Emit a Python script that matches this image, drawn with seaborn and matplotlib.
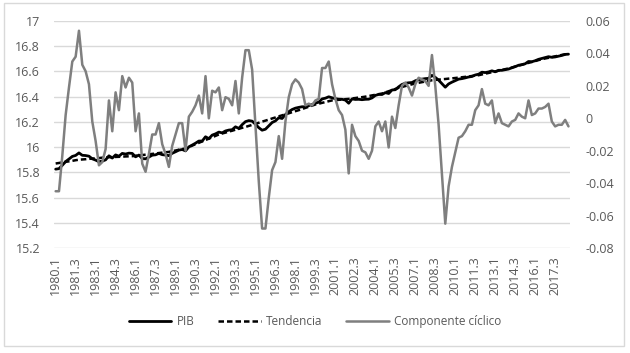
import numpy as np
import pandas as pd
import seaborn as sns
import matplotlib.pyplot as plt
from matplotlib.patches import Rectangle
from matplotlib.ticker import FuncFormatter

# quarterly labels 1980.1 .. 2018.3
quarters = [f"{y}.{q}" for y in range(1980, 2019) for q in range(1, 5)][:155]

pib = [
    15.825, 15.829, 15.856, 15.885, 15.906, 15.926, 15.934, 15.954, 15.935, 15.933,
    15.928, 15.907, 15.897, 15.884, 15.889, 15.899, 15.931, 15.913, 15.938, 15.928,
    15.950, 15.945, 15.952, 15.950, 15.923, 15.937, 15.909, 15.907, 15.921, 15.936,
    15.939, 15.950, 15.940, 15.937, 15.932, 15.951, 15.963, 15.976, 15.981, 15.970,
    16.002, 16.016, 16.031, 16.048, 16.048, 16.082, 16.067, 16.095, 16.105, 16.119,
    16.113, 16.128, 16.135, 16.138, 16.161, 16.148, 16.178, 16.202, 16.210, 16.206,
    16.181, 16.154, 16.134, 16.142, 16.169, 16.195, 16.208, 16.233, 16.227, 16.258,
    16.281, 16.298, 16.309, 16.315, 16.320, 16.319, 16.329, 16.337, 16.349, 16.356,
    16.382, 16.388, 16.399, 16.391, 16.384, 16.380, 16.379, 16.373, 16.348, 16.382,
    16.378, 16.379, 16.376, 16.379, 16.380, 16.390, 16.410, 16.418, 16.417, 16.432,
    16.425, 16.453, 16.455, 16.478, 16.497, 16.506, 16.510, 16.512, 16.526, 16.535,
    16.539, 16.543, 16.545, 16.569, 16.553, 16.531, 16.503, 16.475, 16.501, 16.515,
    16.527, 16.539, 16.543, 16.549, 16.556, 16.560, 16.572, 16.578, 16.594, 16.591,
    16.596, 16.605, 16.597, 16.609, 16.609, 16.614, 16.619, 16.629, 16.638, 16.649,
    16.654, 16.661, 16.679, 16.677, 16.685, 16.696, 16.703, 16.710, 16.717, 16.712,
    16.715, 16.721, 16.727, 16.735, 16.737,
]

tendencia = [
    15.870, 15.874, 15.879, 15.883, 15.887, 15.891, 15.896, 15.900, 15.902, 15.904,
    15.907, 15.909, 15.911, 15.913, 15.916, 15.918, 15.920, 15.921, 15.922, 15.923,
    15.924, 15.926, 15.927, 15.928, 15.931, 15.934, 15.937, 15.940, 15.943, 15.946,
    15.949, 15.953, 15.956, 15.959, 15.962, 15.968, 15.973, 15.979, 15.984, 15.990,
    16.001, 16.012, 16.023, 16.034, 16.045, 16.056, 16.067, 16.078, 16.089, 16.100,
    16.108, 16.115, 16.123, 16.130, 16.138, 16.145, 16.153, 16.160, 16.168, 16.176,
    16.185, 16.193, 16.202, 16.210, 16.218, 16.227, 16.235, 16.244, 16.252, 16.260,
    16.268, 16.277, 16.285, 16.293, 16.302, 16.311, 16.320, 16.329, 16.338, 16.344,
    16.351, 16.357, 16.364, 16.370, 16.372, 16.375, 16.377, 16.380, 16.382, 16.386,
    16.389, 16.393, 16.396, 16.400, 16.405, 16.410, 16.415, 16.420, 16.425, 16.434,
    16.443, 16.452, 16.461, 16.470, 16.477, 16.484, 16.491, 16.498, 16.505, 16.510,
    16.515, 16.520, 16.525, 16.530, 16.533, 16.535, 16.538, 16.540, 16.543, 16.545,
    16.548, 16.551, 16.554, 16.557, 16.560, 16.564, 16.567, 16.570, 16.576, 16.582,
    16.588, 16.594, 16.600, 16.606, 16.612, 16.618, 16.624, 16.631, 16.639, 16.646,
    16.653, 16.661, 16.668, 16.675, 16.682, 16.690, 16.697, 16.703, 16.708, 16.714,
    16.720, 16.725, 16.731, 16.736, 16.742,
]

ciclo = [
    -0.045, -0.045, -0.023, 0.002, 0.019, 0.035, 0.038, 0.054, 0.033, 0.029,
    0.021, -0.002, -0.014, -0.029, -0.027, -0.019, 0.011, -0.008, 0.016, 0.005,
    0.026, 0.019, 0.025, 0.022, -0.008, 0.003, -0.028, -0.033, -0.022, -0.010,
    -0.010, -0.003, -0.016, -0.022, -0.030, -0.017, -0.010, -0.003, -0.003, -0.020,
    0.001, 0.004, 0.008, 0.014, 0.003, 0.026, 0.000, 0.017, 0.016, 0.019,
    0.005, 0.013, 0.012, 0.008, 0.023, 0.003, 0.025, 0.042, 0.042, 0.030,
    -0.004, -0.039, -0.068, -0.068, -0.049, -0.032, -0.027, -0.011, -0.025, -0.002,
    0.013, 0.021, 0.024, 0.022, 0.018, 0.008, 0.009, 0.008, 0.011, 0.012,
    0.031, 0.031, 0.035, 0.021, 0.012, 0.005, 0.002, -0.007, -0.034, -0.004,
    -0.011, -0.014, -0.020, -0.021, -0.025, -0.020, -0.005, -0.002, -0.008, -0.002,
    -0.018, 0.001, -0.006, 0.008, 0.020, 0.022, 0.019, 0.014, 0.021, 0.025,
    0.024, 0.023, 0.020, 0.039, 0.020, -0.004, -0.035, -0.065, -0.042, -0.030,
    -0.021, -0.012, -0.011, -0.008, -0.004, -0.004, 0.005, 0.008, 0.018, 0.009,
    0.008, 0.011, -0.003, 0.003, -0.003, -0.004, -0.005, -0.002, -0.001, 0.003,
    0.001, 0.000, 0.011, 0.002, 0.003, 0.006, 0.006, 0.007, 0.009, -0.002,
    -0.005, -0.004, -0.004, -0.001, -0.005,
]

df = pd.DataFrame({
    "t": np.arange(len(quarters)),
    "PIB": pib,
    "Tendencia": tendencia,
    "Componente cíclico": ciclo,
})

sns.set_style("white")
plt.rcParams["font.family"] = ["Open Sans", "DejaVu Sans"]
txt = "#595959"

fig, ax = plt.subplots(figsize=(6.3, 3.53), dpi=100)
fig.subplots_adjust(left=0.0857, right=0.905, top=0.9405, bottom=0.2975)
ax2 = ax.twinx()

sns.lineplot(data=df, x="t", y="PIB", ax=ax, color="black", lw=2.0, legend=False)
sns.lineplot(data=df, x="t", y="Tendencia", ax=ax, color="black", lw=1.8, legend=False)
ax.lines[1].set_dashes((2.2, 1.2))
sns.lineplot(data=df, x="t", y="Componente cíclico", ax=ax2, color="#7f7f7f", lw=1.8, legend=False)

ax.set_xlim(-0.5, len(quarters) - 0.5)
ax.set_ylim(15.2, 17)
ax.set_yticks(np.arange(15.2, 17.01, 0.2))
ax.yaxis.set_major_formatter(FuncFormatter(lambda v, _: f"{round(v, 1) + 0.0:g}"))
ax2.set_ylim(-0.08, 0.06)
ax2.set_yticks(np.arange(-0.08, 0.061, 0.02))
ax2.yaxis.set_major_formatter(FuncFormatter(lambda v, _: f"{round(v, 2) + 0.0:g}"))

ax.set_xticks(range(0, len(quarters), 6))
ax.set_xticklabels(quarters[::6], rotation=90)

ax.grid(axis="y", color="#d9d9d9", lw=1)
ax.set_axisbelow(True)
ax2.grid(False)
for a in (ax, ax2):
    a.set_xlabel("")
    a.set_ylabel("")
    for s in a.spines.values():
        s.set_visible(False)
ax.tick_params(axis="x", length=0, pad=6, labelsize=9, colors=txt)
ax.tick_params(axis="y", length=0, pad=10, labelsize=9, colors=txt)
ax2.tick_params(axis="y", length=0, pad=11, labelsize=9, colors=txt)

handles = [ax.lines[0], ax.lines[1], ax2.lines[0]]
fig.legend(handles, ["PIB", "Tendencia", "Componente cíclico"], loc="center",
           bbox_to_anchor=(0.5, 0.088), ncol=3, frameon=False, fontsize=8.5,
           handlelength=3.6, handletextpad=0.45, columnspacing=2.0, labelcolor=txt)

fig.patches.append(Rectangle((0.0056, 0.0198), 0.985, 0.9717, transform=fig.transFigure,
                             fill=False, edgecolor="#d9d9d9", lw=1))

fig.savefig("out.png", dpi=100)
